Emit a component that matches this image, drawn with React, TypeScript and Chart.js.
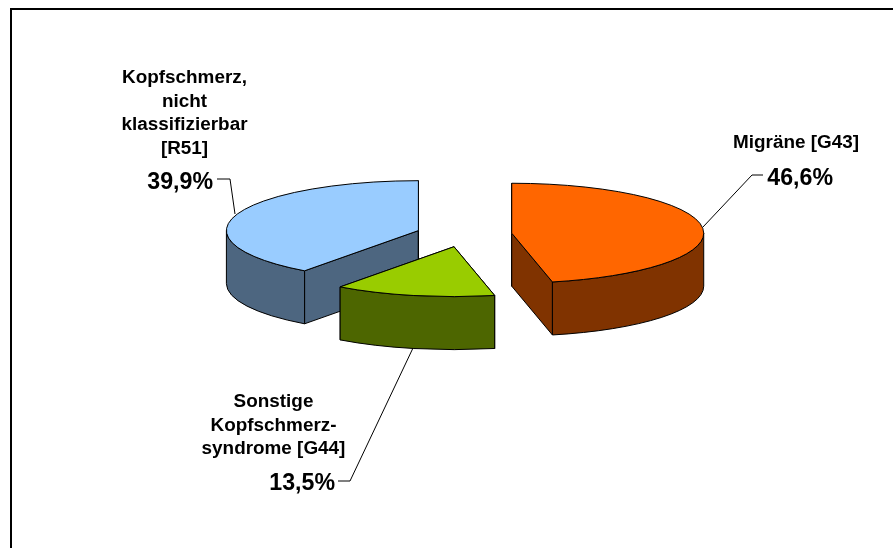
import React, { useEffect, useRef } from "react";
import { Chart, registerables } from "chart.js";

Chart.register(...registerables);

const categories = ["Migräne [G43]", "Sonstige Kopfschmerz-syndrome [G44]", "Kopfschmerz, nicht klassifizierbar [R51]"];
const shares = [46.6, 13.5, 39.9];
const percentLabels = ["46,6%", "13,5%", "39,9%"];
const topColors = ["#FF6600", "#99CC00", "#99CCFF"];
const wallColors = ["#803300", "#4D6600", "#4D6680"];
const nameLines = [["Migräne [G43]"], ["Sonstige", "Kopfschmerz-", "syndrome [G44]"], ["Kopfschmerz,", "nicht", "klassifizierbar", "[R51]"]];

const SQUASH = 0.26;
const DEPTH = 53;
const NAME_FONT = "bold 18.9px 'Liberation Sans', Arial, sans-serif";
const PCT_FONT = "bold 23.2px 'Liberation Sans', Arial, sans-serif";

const labelLayout = [
  { nameX: 796, nameY: 148, step: 24, pctX: 833, pctY: 185 },
  { nameX: 273.5, nameY: 407, step: 23.6, pctX: 335, pctY: 490 },
  { nameX: 184.5, nameY: 83, step: 23.6, pctX: 213, pctY: 189 },
];
const leaders = [
  [[763, 175], [752, 175], [703, 227]],
  [[338, 481], [350, 481], [413, 348]],
  [[217, 179], [230, 179], [235, 214]],
];

const pie3d = {
  id: "pie3d",
  beforeDraw(chart: any) {
    const { ctx, width, height } = chart;
    ctx.save();
    ctx.fillStyle = "#fff";
    ctx.fillRect(0, 0, width, height);
    ctx.strokeStyle = "#000";
    ctx.lineWidth = 2;
    ctx.beginPath();
    ctx.moveTo(11, height + 2);
    ctx.lineTo(11, 9);
    ctx.lineTo(width + 2, 9);
    ctx.stroke();
    ctx.restore();
  },
  beforeDatasetDraw(chart: any, args: any) {
    const { ctx } = chart;
    const arcs = chart.getDatasetMeta(args.index).data;
    for (const i of [2, 0, 1]) {
      const arc = arcs[i];
      const { x, y, startAngle: s, endAngle: e, outerRadius: r } = arc.getProps(["x", "y", "startAngle", "endAngle", "outerRadius"], true);
      const off = arc.options.offset / 2;
      const mid = (s + e) / 2;
      const cx = x + Math.cos(mid) * off;
      const cy = y + Math.sin(mid) * off * SQUASH;
      const ry = r * SQUASH;
      const pt = (t: number) => [cx + r * Math.cos(t), cy + ry * Math.sin(t)];
      ctx.save();
      ctx.lineWidth = 1;
      ctx.strokeStyle = "#000";
      ctx.lineJoin = "round";
      for (const t of [s, e]) {
        const [px, py] = pt(t);
        ctx.beginPath();
        ctx.moveTo(cx, cy);
        ctx.lineTo(px, py);
        ctx.lineTo(px, py + DEPTH);
        ctx.lineTo(cx, cy + DEPTH);
        ctx.closePath();
        ctx.fillStyle = wallColors[i];
        ctx.fill();
        ctx.stroke();
      }
      const lo = Math.max(s, 0);
      const hi = Math.min(e, Math.PI);
      if (lo < hi) {
        ctx.beginPath();
        ctx.ellipse(cx, cy, r, ry, 0, lo, hi);
        ctx.ellipse(cx, cy + DEPTH, r, ry, 0, hi, lo, true);
        ctx.closePath();
        ctx.fillStyle = wallColors[i];
        ctx.fill();
        ctx.stroke();
      }
      ctx.beginPath();
      ctx.moveTo(cx, cy);
      ctx.ellipse(cx, cy, r, ry, 0, s, e);
      ctx.closePath();
      ctx.fillStyle = topColors[i];
      ctx.fill();
      ctx.stroke();
      ctx.restore();
    }
    return false;
  },
  afterDraw(chart: any) {
    const { ctx } = chart;
    ctx.save();
    ctx.fillStyle = "#000";
    categories.forEach((_, i) => {
      const l = labelLayout[i];
      ctx.font = NAME_FONT;
      ctx.textAlign = "center";
      ctx.textBaseline = "alphabetic";
      nameLines[i].forEach((line, j) => ctx.fillText(line, l.nameX, l.nameY + j * l.step));
      ctx.font = PCT_FONT;
      ctx.textAlign = "right";
      ctx.fillText(percentLabels[i], l.pctX, l.pctY);
      ctx.strokeStyle = "#000";
      ctx.lineWidth = 1;
      ctx.beginPath();
      leaders[i].forEach(([a, b], k) => (k ? ctx.lineTo(a, b) : ctx.moveTo(a, b)));
      ctx.stroke();
    });
    ctx.restore();
  },
};

export default function App() {
  const ref = useRef<HTMLCanvasElement>(null);
  useEffect(() => {
    document.body.style.margin = "0";
    const chart = new Chart(ref.current!, {
      type: "pie",
      data: {
        labels: categories,
        datasets: [{ data: shares, backgroundColor: topColors, offset: 96, borderWidth: 0 }],
      },
      options: {
        responsive: false,
        animation: false,
        radius: 192,
        layout: { padding: { left: 35, bottom: 79 } },
        plugins: { legend: { display: false }, tooltip: { enabled: false }, title: { display: false } },
      } as any,
      plugins: [pie3d as any],
    });
    return () => chart.destroy();
  }, []);
  return <canvas ref={ref} width={893} height={548} style={{ display: "block", width: 893, height: 548 }} />;
}
